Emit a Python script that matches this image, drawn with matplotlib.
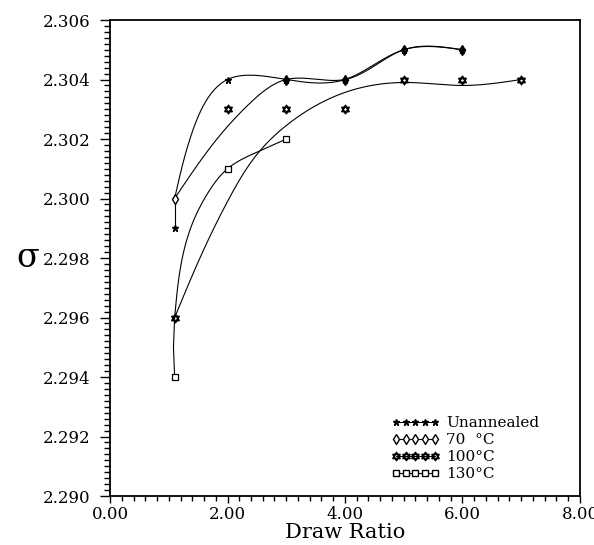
import numpy as np
import matplotlib
matplotlib.use('Agg')
import matplotlib.pyplot as plt
from matplotlib.path import Path
from matplotlib.lines import Line2D
from matplotlib.ticker import MultipleLocator, FormatStrFormatter

# measured points
ratio_un = [1.1, 2.0, 3.0, 4.0, 5.0, 6.0]
sigma_un = [2.299, 2.304, 2.304, 2.304, 2.305, 2.305]
ratio_70 = [1.1, 3.0, 4.0, 5.0, 6.0]
sigma_70 = [2.300, 2.304, 2.304, 2.305, 2.305]
ratio_100 = [1.1, 2.0, 3.0, 4.0, 5.0, 6.0, 7.0]
sigma_100 = [2.296, 2.303, 2.303, 2.303, 2.304, 2.304, 2.304]
ratio_130 = [1.1, 2.0, 3.0]
sigma_130 = [2.294, 2.301, 2.302]

# knots of the hand-drawn curves
curve_un_x = [1.1, 1.36, 2.0, 3.0, 4.0, 5.0, 6.0]
curve_un_y = [2.300, 2.302, 2.304, 2.304, 2.304, 2.305, 2.305]
curve_70_x = [1.1, 1.82, 2.38, 3.0, 4.0, 5.0, 6.0]
curve_70_y = [2.300, 2.302, 2.3032, 2.304, 2.304, 2.305, 2.305]
curve_100_x = [1.1, 1.67, 2.0, 2.55, 3.03, 4.05, 5.05, 6.0, 7.0]
curve_100_y = [2.296, 2.2986, 2.2999, 2.3016, 2.3025, 2.3036, 2.3039, 2.3038, 2.304]
curve_130_x = [1.1, 1.22, 1.39, 1.67, 2.0, 2.55, 3.0]
curve_130_y = [2.296, 2.2979, 2.2991, 2.3002, 2.301, 2.3016, 2.302]

labels = ['Unannealed', '70  \u00b0C', '100\u00b0C', '130\u00b0C']


def natural_spline(t, v, tt):
    n = len(t)
    h = np.diff(t)
    A = np.zeros((n, n))
    r = np.zeros(n)
    A[0, 0] = A[-1, -1] = 1
    for i in range(1, n - 1):
        A[i, i - 1] = h[i - 1]
        A[i, i] = 2 * (h[i - 1] + h[i])
        A[i, i + 1] = h[i]
        r[i] = 3 * ((v[i + 1] - v[i]) / h[i] - (v[i] - v[i - 1]) / h[i - 1])
    c = np.linalg.solve(A, r)
    b = (v[1:] - v[:-1]) / h - h * (2 * c[:-1] + c[1:]) / 3
    d = (c[1:] - c[:-1]) / (3 * h)
    idx = np.clip(np.searchsorted(t, tt) - 1, 0, n - 2)
    dt = tt - t[idx]
    return v[idx] + b[idx] * dt + c[idx] * dt ** 2 + d[idx] * dt ** 3


def smooth(xs, ys, n=300):
    # parametric spline in roughly screen-proportional units
    px = np.array(xs) / 8.0
    py = (np.array(ys) - 2.290) / 0.016
    t = np.concatenate([[0], np.cumsum(np.hypot(np.diff(px), np.diff(py)))])
    tt = np.linspace(0, t[-1], n)
    sx = natural_spline(t, px, tt) * 8.0
    sy = natural_spline(t, py, tt) * 0.016 + 2.290
    return sx, sy


# star of david marker
tri1 = [(0, 1), (-0.866, -0.5), (0.866, -0.5), (0, 1)]
tri2 = [(0, -1), (-0.866, 0.5), (0.866, 0.5), (0, -1)]
hexagram = Path(tri1 + tri2,
                [Path.MOVETO, Path.LINETO, Path.LINETO, Path.CLOSEPOLY] * 2)

plt.rcParams['font.family'] = ['DejaVu Serif']
fig = plt.figure(figsize=(5.94, 5.45), dpi=100)
ax = fig.add_axes([0.1852, 0.0899, 0.7912, 0.8734])

lw = 0.8
col = 'black'
for cx, cy in [(curve_un_x, curve_un_y), (curve_70_x, curve_70_y),
               (curve_100_x, curve_100_y), (curve_130_x, curve_130_y)]:
    sx, sy = smooth(cx, cy)
    ax.plot(sx, sy, color=col, lw=lw)

# short straight runs from the first point to the start of the curve
ax.plot([ratio_un[0], curve_un_x[0]], [sigma_un[0], curve_un_y[0]], color=col, lw=lw)
ax.plot([ratio_130[0], curve_130_x[0] - 0.02, curve_130_x[0]],
        [sigma_130[0], (sigma_130[0] + curve_130_y[0]) / 2, curve_130_y[0]], color=col, lw=lw)

ax.plot(ratio_un, sigma_un, ls='none', marker='*', ms=5, color=col)
ax.plot(ratio_70[:1], sigma_70[:1], ls='none', marker='d', ms=5, mfc='white', mec=col, mew=1)
ax.plot(ratio_70[1:], sigma_70[1:], ls='none', marker='d', ms=5, color=col)
ax.plot(ratio_100, sigma_100, ls='none', marker=hexagram, ms=6, mfc='white', mec=col, mew=1.2)
ax.plot(ratio_130, sigma_130, ls='none', marker='s', ms=5, mfc='white', mec=col, mew=0.9)

handles = [
    Line2D([], [], color=col, lw=0.8, marker='*', ms=5),
    Line2D([], [], color=col, lw=0.8, marker='d', ms=5, mfc='white'),
    Line2D([], [], color=col, lw=0.8, marker=hexagram, ms=6, mfc='white', mew=1.1),
    Line2D([], [], color=col, lw=0.8, marker='s', ms=5, mfc='white'),
]
ax.legend(handles, labels, loc='upper left', bbox_to_anchor=(0.598, 0.168),
          frameon=False, numpoints=5, handlelength=3.2, handletextpad=0.4,
          labelspacing=0.2, borderpad=0, borderaxespad=0, fontsize=11)

ax.set_xlim(0, 8)
ax.set_ylim(2.290, 2.306)
ax.xaxis.set_major_locator(MultipleLocator(2))
ax.xaxis.set_minor_locator(MultipleLocator(0.2))
ax.yaxis.set_major_locator(MultipleLocator(0.002))
ax.yaxis.set_minor_locator(MultipleLocator(0.0002))
ax.xaxis.set_major_formatter(FormatStrFormatter('%.2f'))
ax.yaxis.set_major_formatter(FormatStrFormatter('%.3f'))
ax.tick_params(which='both', direction='out', top=False, right=False,
               labelsize=12, width=1)
ax.tick_params(axis='y', which='major', length=7, pad=7)
ax.tick_params(axis='y', which='minor', length=4)
ax.tick_params(axis='x', which='major', length=5, pad=2)
ax.tick_params(axis='x', which='minor', length=3.5)
for s in ax.spines.values():
    s.set_linewidth(1.3)

ax.set_xlabel('Draw Ratio', fontsize=15, labelpad=0)
ax.set_ylabel('\u03c3', fontsize=24, rotation=0, labelpad=11, va='center')

fig.savefig('out.png', dpi=100)
